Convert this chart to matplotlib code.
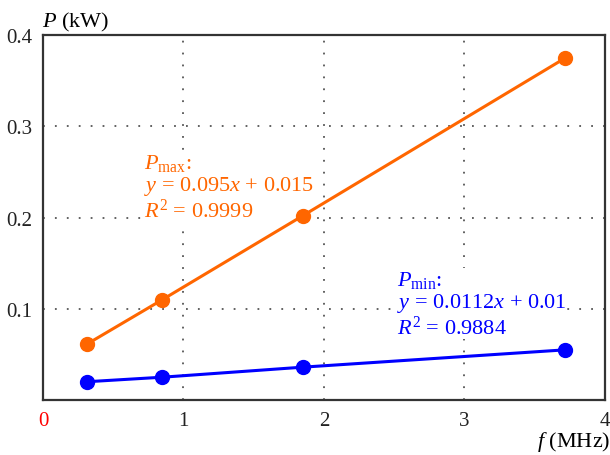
import matplotlib
matplotlib.use("Agg")
import matplotlib.pyplot as plt

plt.rcParams['font.family'] = ['Liberation Serif', 'DejaVu Serif']
plt.rcParams['mathtext.fontset'] = 'custom'
plt.rcParams['mathtext.rm'] = 'Liberation Serif'
plt.rcParams['mathtext.it'] = 'Liberation Serif:italic'

# measured power vs frequency
freq = [0.31, 0.85, 1.85, 3.72]
p_max = [0.061, 0.110, 0.202, 0.375]
p_min = [0.020, 0.025, 0.036, 0.055]

x_ticks = [0, 1, 2, 3, 4]
y_ticks = [0.1, 0.2, 0.3, 0.4]

fit_max = [r'$P_{\mathrm{max}}$:', r'$y$ = 0.095$x$ + 0.015', r'$R^2$ = 0.9999']
fit_min = [r'$P_{\mathrm{min}}$:', r'$y$ = 0.0112$x$ + 0.01', r'$R^2$ = 0.9884']

orange = '#ff6600'
blue = '#0000ff'

fig = plt.figure(figsize=(6.1, 4.56), dpi=100)
ax = fig.add_axes([0.0705, 0.1206, 0.921, 0.8004])

ax.plot(freq, p_max, '-o', color=orange, lw=2.2, ms=10, zorder=3)
ax.plot(freq, p_min, '-o', color=blue, lw=2.2, ms=10, zorder=3)

ax.set_xlim(0, 4)
ax.set_ylim(0, 0.4)
ax.set_xticks(x_ticks)
ax.set_yticks(y_ticks)
ax.set_xticklabels([str(t) for t in x_ticks])
ax.set_yticklabels([f"{t:.1f}" for t in y_ticks])
ax.tick_params(length=0, labelsize=15, colors='#222222')
ax.tick_params(axis='x', pad=8)
ax.tick_params(axis='y', pad=8)
ax.get_xticklabels()[0].set_color('red')

ax.grid(True, color='#555555', linestyle=(0, (1, 5.6)), linewidth=1.3)
for s in ax.spines.values():
    s.set_color('#333333')
    s.set_linewidth(1.6)

# axis labels
fig.text(0.069, 0.94, r'$P$ (kW)', fontsize=16, ha='left', va='baseline')
fig.text(1.0, 0.02, r'$f$ (MHz)', fontsize=16, ha='right', va='baseline')

# fit annotations: white box hides the grid, lines stay on top
box = dict(facecolor='white', edgecolor='none', pad=0.5)
ax.text(0.72, 0.272, '\n'.join(fit_max), color=orange, fontsize=16,
        va='top', linespacing=1.08, bbox=box, zorder=2)
ax.text(2.52, 0.144, '\n'.join(fit_min), color=blue, fontsize=16,
        va='top', linespacing=1.08, bbox=box, zorder=2)

fig.savefig('out.png', dpi=100)
